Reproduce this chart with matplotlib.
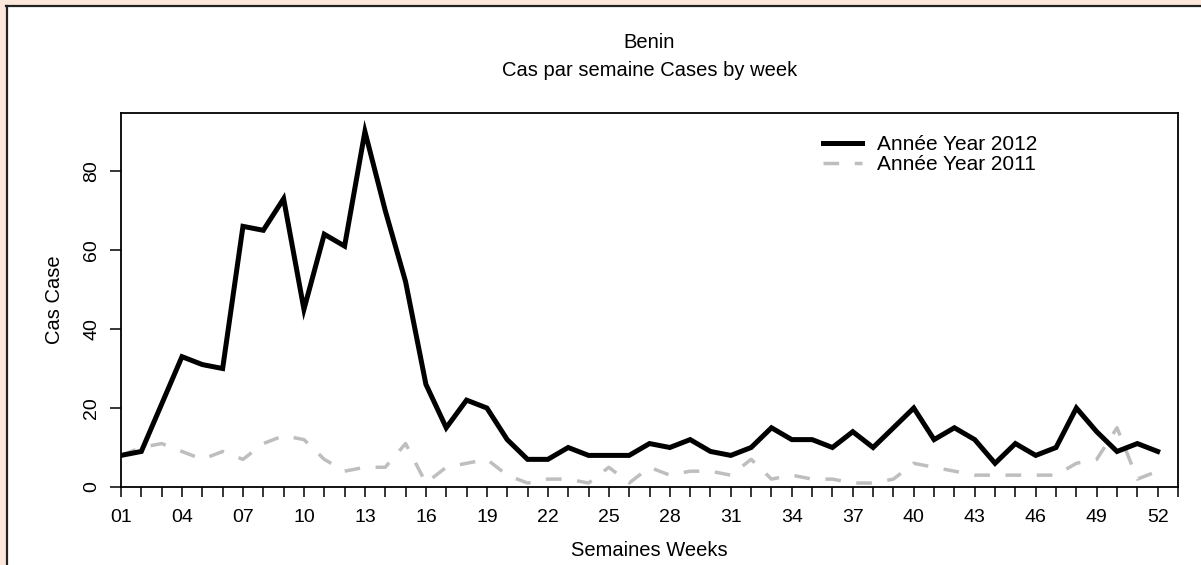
import matplotlib
matplotlib.use("Agg")
import matplotlib.pyplot as plt
from matplotlib.patches import Rectangle
from matplotlib.lines import Line2D

plt.rcParams['font.family'] = ['Liberation Sans', 'DejaVu Sans']

weeks = list(range(1, 53))
cases_2012 = [8, 9, 21, 33, 31, 30, 66, 65, 73, 45, 64, 61, 90, 70, 52, 26,
              15, 22, 20, 12, 7, 7, 10, 8, 8, 8, 11, 10, 12, 9, 8, 10,
              15, 12, 12, 10, 14, 10, 15, 20, 12, 15, 12, 6, 11, 8, 10, 20,
              14, 9, 11, 9]
cases_2011 = [8, 10, 11, 9, 7, 9, 7, 11, 13, 12, 7, 4, 5, 5, 11, 1,
              5, 6, 7, 3, 1, 2, 2, 1, 5, 1, 5, 3, 4, 4, 3, 7,
              2, 3, 2, 2, 1, 1, 2, 6, 5, 4, 3, 3, 3, 3, 3, 6,
              7, 15, 2, 4]
tick_labels = ["%02d" % w for w in range(1, 53, 3)]
title_main = "Benin"
title_sub = "Cas par semaine Cases by week"
xlabel = "Semaines Weeks"
ylabel = "Cas Case"
legend_labels = ["Année Year 2012", "Année Year 2011"]

W, H = 1201, 565
fig = plt.figure(figsize=(W / 100, H / 100), dpi=100)
fig.patch.set_facecolor("white")

# outer frame decoration
peach = "#FBE8DA"
fig.patches.append(Rectangle((0, 1 - 5 / H), 1, 5 / H, transform=fig.transFigure,
                             facecolor=peach, edgecolor="none", zorder=0))
fig.patches.append(Rectangle((0, 0), 6 / W, 1, transform=fig.transFigure,
                             facecolor=peach, edgecolor="none", zorder=0))
fig.lines.append(Line2D([6 / W, 1], [1 - 6 / H, 1 - 6 / H], transform=fig.transFigure,
                        color="#222222", lw=1.6))
fig.lines.append(Line2D([7 / W, 7 / W], [0, 1 - 6 / H], transform=fig.transFigure,
                        color="#222222", lw=1.6))

left, right, top, bottom = 121, 1178, 113, 487
ax = fig.add_axes([left / W, 1 - bottom / H, (right - left) / W, (bottom - top) / H])

ax.plot(weeks, cases_2012, color="black", lw=3.6, solid_joinstyle="miter",
        label=legend_labels[0], zorder=3)
ax.plot(weeks, cases_2011, color="#BEBEBE", lw=2.5, dashes=(4.5, 4.5),
        label=legend_labels[1], zorder=2)

ax.set_xlim(1, 53)
ax.set_ylim(0, 94.7)
ax.set_xticks(range(1, 54))
ax.set_xticklabels([tick_labels[(w - 1) // 3] if (w - 1) % 3 == 0 and w <= 52 else ""
                    for w in range(1, 54)])
ax.set_yticks([0, 20, 40, 60, 80])
ax.set_yticklabels(["0", "20", "40", "60", "80"], rotation=90, va="center")

for s in ax.spines.values():
    s.set_linewidth(1.3)
    s.set_color("black")
ax.tick_params(axis="x", length=7.5, width=1.1, direction="out", pad=8, labelsize=14)
ax.tick_params(axis="y", length=8, width=1.1, direction="out", pad=7, labelsize=14)

fig.text((left + right) / 2 / W, 1 - 42 / H, title_main, ha="center", va="center", fontsize=14.5)
fig.text((left + right) / 2 / W, 1 - 70 / H, title_sub, ha="center", va="center", fontsize=14.5)
fig.text((left + right) / 2 / W, 1 - 551 / H, xlabel, ha="center", va="center", fontsize=14.5)
fig.text(54 / W, 1 - 300 / H, ylabel, ha="center", va="center", rotation=90, fontsize=14.5)

ax.legend(loc="upper left", bbox_to_anchor=((823 - left) / (right - left), 0.94),
          frameon=False, fontsize=15, handlelength=1.85, handletextpad=0.72,
          labelspacing=0.05, borderpad=0, borderaxespad=0)

fig.savefig("out.png", dpi=100, facecolor=fig.get_facecolor())
